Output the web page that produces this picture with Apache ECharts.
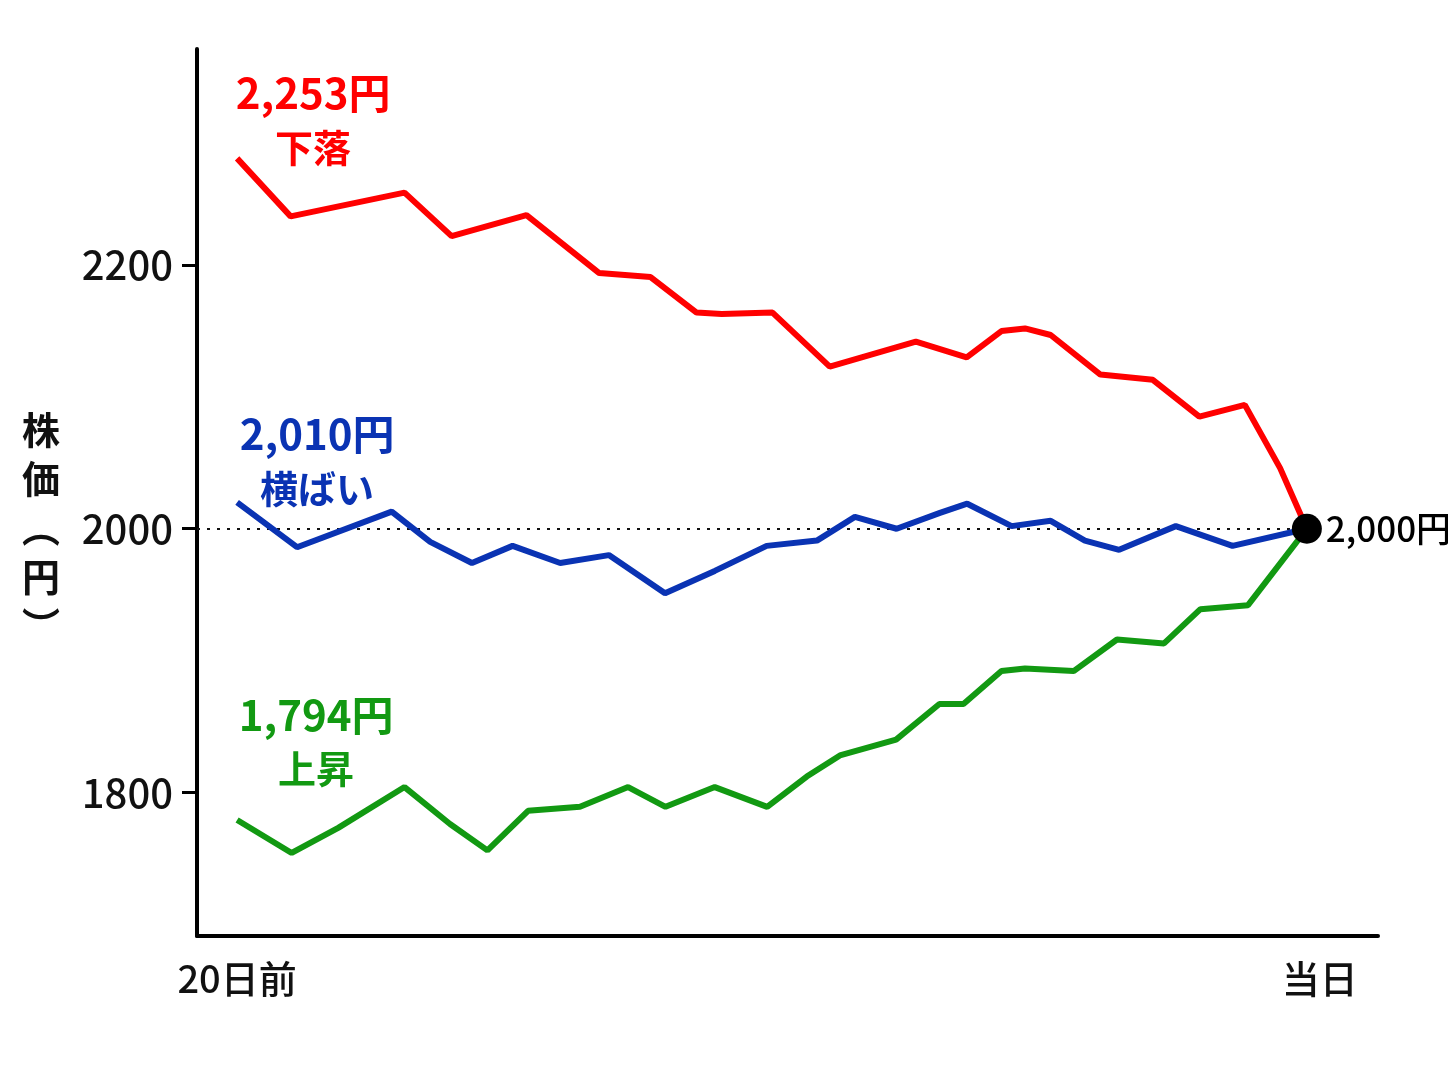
<!DOCTYPE html>
<html>
<head>
<meta charset="utf-8">
<script src="https://cdn.jsdelivr.net/npm/echarts@6/dist/echarts.min.js"></script>
<style>
  html, body { margin: 0; padding: 0; background: #fff; }
  #chart { width: 1448px; height: 1086px; }
</style>
</head>
<body>
<div id="chart"></div>
<script>
// x = 20日前からの日数（0 = 20日前, 20 = 当日）
const redPoints = [
  [0, 2281], [1.0, 2237], [3.13, 2255], [4.01, 2222], [5.41, 2238], [6.77, 2194],
  [7.73, 2191], [8.59, 2164], [9.06, 2163], [10.01, 2164], [11.08, 2123], [12.69, 2142],
  [13.64, 2130], [14.29, 2150], [14.73, 2152], [15.21, 2147], [16.14, 2117], [17.12, 2113],
  [17.99, 2085], [18.84, 2094], [19.5, 2046], [20, 2000]
];
const bluePoints = [
  [0, 2020], [1.12, 1986], [2.89, 2013], [3.61, 1990], [4.39, 1974], [5.15, 1987],
  [6.04, 1974], [6.95, 1980], [8.0, 1951], [8.93, 1968], [9.9, 1987], [10.84, 1991],
  [11.55, 2009], [12.33, 2000], [13.14, 2012], [13.65, 2019], [14.48, 2002], [15.21, 2006],
  [15.85, 1991], [16.49, 1984], [17.55, 2002], [18.61, 1987], [20, 2000]
];
const greenPoints = [
  [0, 1779], [1.02, 1754], [1.89, 1773], [3.13, 1804], [3.98, 1776], [4.68, 1756],
  [5.44, 1786], [6.41, 1789], [7.31, 1804], [8.01, 1789], [8.93, 1804], [9.91, 1789],
  [10.65, 1812], [11.27, 1828], [12.32, 1840], [13.13, 1867], [13.58, 1867], [14.29, 1892],
  [14.73, 1894], [15.64, 1892], [16.45, 1916], [17.33, 1913], [18.01, 1939], [18.9, 1942],
  [20, 2000]
];

const seriesNames = ['下落', '横ばい', '上昇'];
const startPrices = ['2,253円', '2,010円', '1,794円'];
const lineColors = ['#ff0000', '#0a33b3', '#129912'];
const labelOffsets = [[76, -39], [80, -42], [79, -79]];

const yTicks = [1800, 2000, 2200];
const xTickDays = [0, 20];
const xTickLabels = ['20日前', '当日'];
const basePrice = 2000;
const todayLabel = '2,000円';
const yName = ['株', '価', '︵', '円', '︶'];

const FONT = '"Noto Sans CJK JP", "Noto Sans", sans-serif';

const chart = echarts.init(document.getElementById('chart'));

function lineSeries(i, points) {
  return {
    name: seriesNames[i],
    type: 'line',
    data: points,
    showSymbol: false,
    z: 3 + i,
    lineStyle: { color: lineColors[i], width: 6 },
    markPoint: {
      symbol: 'circle',
      symbolSize: 1,
      itemStyle: { color: 'rgba(0,0,0,0)' },
      data: [{
        coord: points[0],
        label: {
          show: true,
          position: 'inside',
          offset: labelOffsets[i],
          align: 'center',
          verticalAlign: 'middle',
          formatter: '{a|' + startPrices[i] + '}\n{b|' + seriesNames[i] + '}',
          rich: {
            a: { fontFamily: FONT, fontWeight: 'bold', fontSize: 42, lineHeight: 56, color: lineColors[i], align: 'center' },
            b: { fontFamily: FONT, fontWeight: 'bold', fontSize: 38, lineHeight: 52, color: lineColors[i], align: 'center' }
          }
        }
      }]
    }
  };
}

const red = lineSeries(0, redPoints);
red.markLine = {
  silent: true,
  symbol: 'none',
  z: 1,
  lineStyle: { color: '#111', width: 2, type: [3, 7] },
  label: { show: false },
  data: [[{ coord: [-0.75, basePrice] }, { coord: [20, basePrice] }]]
};

const option = {
  animation: false,
  backgroundColor: '#ffffff',
  grid: { left: 197, right: 70, top: 49, bottom: 150, outerBoundsMode: 'none', containLabel: false },
  xAxis: {
    type: 'value',
    min: -0.75,
    max: 21.33,
    axisLine: { show: true, onZero: false, lineStyle: { color: '#000', width: 4 } },
    axisTick: { show: false },
    splitLine: { show: false },
    axisLabel: {
      customValues: xTickDays,
      margin: 24,
      fontFamily: FONT,
      fontSize: 38,
      fontWeight: 500,
      color: '#111',
      formatter: function (v) {
        return v === 0 ? xTickLabels[0] : '{r|' + xTickLabels[1] + '}';
      },
      rich: {
        r: { fontFamily: FONT, fontSize: 38, fontWeight: 500, color: '#111', padding: [0, 0, 0, 26] }
      }
    }
  },
  yAxis: {
    type: 'value',
    min: 1691,
    max: 2364,
    // 先頭の空行で縦書きの軸名を少し下げる
    name: '{s| }\n' + yName.join('\n'),
    nameLocation: 'middle',
    nameRotate: 0,
    nameGap: 137,
    nameTextStyle: {
      fontFamily: FONT, fontSize: 38, fontWeight: 'bold', color: '#111',
      lineHeight: 49, align: 'right', verticalAlign: 'middle',
      rich: { s: { fontSize: 10, lineHeight: 70 } }
    },
    axisLine: { show: true, onZero: false, lineStyle: { color: '#000', width: 4 } },
    axisTick: { show: true, customValues: yTicks, length: 15, lineStyle: { color: '#000', width: 3 } },
    splitLine: { show: false },
    axisLabel: {
      customValues: yTicks,
      margin: 24,
      fontFamily: FONT,
      fontSize: 40,
      fontWeight: 500,
      color: '#111',
      formatter: function (v) { return String(v); }
    }
  },
  series: [
    red,
    lineSeries(1, bluePoints),
    lineSeries(2, greenPoints),
    {
      type: 'scatter',
      data: [[20, basePrice]],
      symbolSize: 30,
      z: 10,
      itemStyle: { color: '#000', opacity: 1 },
      label: {
        show: true,
        position: 'right',
        distance: 4,
        formatter: todayLabel,
        fontFamily: FONT,
        fontSize: 35,
        fontWeight: 500,
        color: '#000'
      }
    }
  ]
};

chart.setOption(option);
</script>
</body>
</html>
